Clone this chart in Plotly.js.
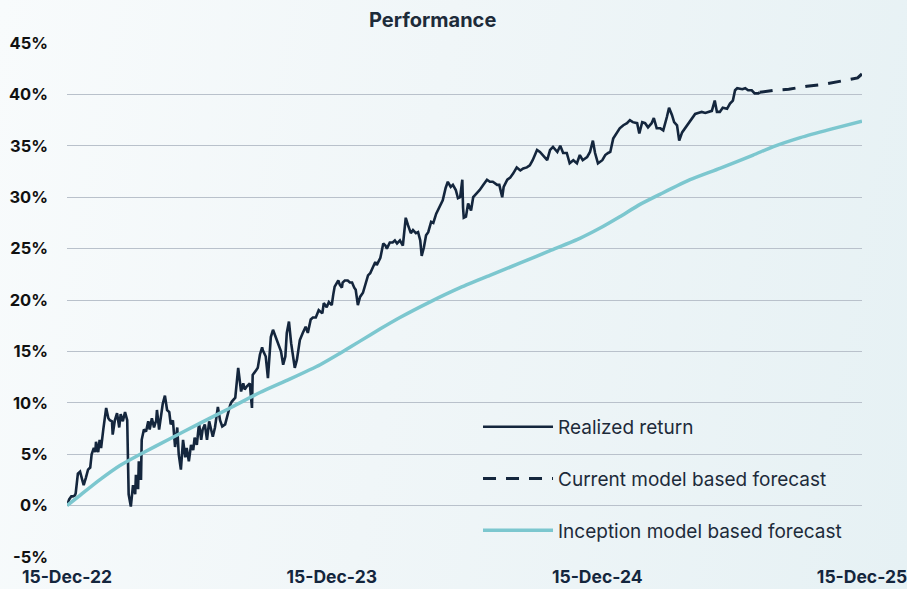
<!DOCTYPE html>
<html>
<head>
<meta charset="utf-8">
<script src="https://cdn.plot.ly/plotly-3.0.1.min.js"></script>
<style>
  html, body { margin: 0; padding: 0; }
  body { width: 907px; height: 589px; overflow: hidden;
         background: linear-gradient(100deg, #f8fbfc 0%, #f0f6f8 45%, #e6f1f4 100%); }
  #chart { width: 907px; height: 589px; }
</style>
</head>
<body>
<div id="chart"></div>
<script>
// Inception date of the strategy; all day offsets count from here
const startDate = "2022-12-15";

// Realized return (day offset from start, cumulative return in %)
const realizedDays = [0,3,6,8,11,12,15,18,21,23,26,29,32,34,37,39,40,43,45,47,50,52,54,57,59,62,63,66,69,72,74,77,80,83,84,85,88,91,94,95,98,99,102,103,106,109,112,114,117,120,123,124,127,130,132,135,138,141,143,146,149,152,154,157,160,163,165,168,171,174,176,179,182,185,187,190,193,196,199,201,204,208,211,214,218,222,225,227,232,236,239,240,243,245,248,252,255,256,261,263,266,269,270,274,277,281,284,288,291,295,298,301,303,306,309,312,314,317,321,325,329,332,336,339,343,347,352,354,358,361,365,367,369,374,376,379,380,383,387,390,393,396,398,401,404,408,412,415,418,420,425,427,432,436,439,441,445,449,452,455,459,463,467,470,474,477,481,484,487,489,492,495,498,502,505,509,511,516,518,522,525,529,532,536,539,542,545,546,547,550,553,557,560,565,569,574,579,583,587,593,596,600,602,607,611,615,620,625,629,634,638,642,648,652,656,662,666,670,676,680,684,689,693,698,703,707,711,717,721,725,728,732,738,742,746,749,753,758,762,767,772,776,780,786,789,793,797,801,806,809,813,818,822,827,830,834,837,841,844,848,852,856,862,866,870,875,880,884,889,893,896,900,904,910,914,918,921,924,931,935,939,944,948,953,955];
const realizedPct = [0.0,0.6,0.9,0.9,1.0,1.2,3.1,3.3,2.5,2.0,2.7,3.5,3.7,5.0,5.6,5.2,6.2,5.2,6.4,5.6,7.4,8.3,9.5,8.5,8.3,8.2,6.9,8.3,9.0,7.6,8.9,8.2,9.1,8.3,3.5,1.1,-0.1,2.0,1.1,3.0,1.6,4.3,2.5,6.4,7.4,7.2,8.2,7.4,8.5,7.6,8.3,9.3,7.4,9.1,9.9,10.7,9.3,9.1,7.9,8.3,5.7,7.6,5.0,3.5,6.4,4.7,5.6,4.3,5.9,5.4,6.6,5.9,8.0,6.4,7.4,7.9,6.4,8.2,7.2,6.7,7.6,9.6,8.3,7.7,7.9,9.1,9.8,10.1,10.5,13.4,11.7,11.1,11.9,11.3,11.6,11.9,9.5,12.7,13.2,13.4,14.7,15.4,15.1,14.5,12.4,16.4,17.1,16.3,15.6,15.0,13.7,14.5,16.8,17.9,15.8,14.2,13.4,14.2,16.1,16.8,17.4,16.8,18.1,18.3,18.3,19.0,18.7,19.7,19.3,19.8,19.5,20.5,21.3,21.9,21.5,21.2,21.7,21.9,21.9,21.7,21.7,21.2,21.0,19.5,20.3,20.7,21.7,22.4,22.6,22.9,23.7,23.4,24.1,25.5,25.3,25.0,25.6,25.6,25.8,25.5,25.8,25.3,28.0,27.3,26.5,26.8,26.5,26.6,25.8,24.3,25.1,26.3,26.6,27.6,27.5,28.4,28.7,29.4,29.7,30.9,31.5,31.0,31.2,30.7,29.9,30.0,31.7,29.0,28.0,28.1,29.4,28.7,30.0,30.4,30.7,31.2,31.7,31.5,31.5,31.2,31.2,30.0,31.0,31.7,31.9,32.3,32.9,32.6,32.8,32.9,33.1,33.6,34.6,34.4,34.1,33.6,34.6,34.9,34.4,35.0,34.3,34.3,33.3,33.6,33.3,34.1,33.6,33.9,34.4,35.5,34.3,33.3,33.6,34.1,34.3,34.4,35.7,36.2,36.7,37.0,37.2,37.5,37.3,37.2,36.2,37.3,37.2,36.8,37.2,37.7,36.7,36.7,36.5,37.8,38.7,38.0,37.3,37.0,35.5,36.3,36.7,37.2,37.8,38.1,38.2,38.3,38.2,38.3,38.4,39.4,38.3,38.3,38.7,38.6,39.1,39.4,40.4,40.6,40.5,40.6,40.4,40.4,40.1,40.1,40.2];

// Current model based forecast (dashed)
const currentDays = [955,975,995,1020,1045,1070,1090,1096];
const currentPct  = [40.2,40.4,40.5,40.8,41.0,41.3,41.6,42.0];

// Inception model based forecast
const inceptionDays = [0,18,45,73,101,142,183,225,266,307,349,376,404,432,459,500,542,583,625,666,707,735,762,790,818,859,900,946,973,1011,1052,1096];
const inceptionPct  = [0,1.0,2.5,3.9,5.0,6.5,8.0,9.5,11.0,12.3,13.7,14.8,16.0,17.2,18.3,19.8,21.2,22.4,23.6,24.8,26.0,27.0,28.1,29.3,30.3,31.7,32.8,34.1,34.9,35.8,36.6,37.4];

// Axis ticks
const xTickDates  = ["2022-12-15","2023-12-15","2024-12-15","2025-12-15"];
const xTickLabels = ["15-Dec-22","15-Dec-23","15-Dec-24","15-Dec-25"];
const yTickVals   = [-5,0,5,10,15,20,25,30,35,40,45];
const yTickLabels = ["-5%","0%","5%","10%","15%","20%","25%","30%","35%","40%","45%"];

const seriesNames = ["Realized return","Current model based forecast","Inception model based forecast"];

function toDates(days) {
  const base = Date.parse(startDate + "T00:00:00Z");
  return days.map(d => new Date(base + d * 86400000).toISOString().slice(0, 10));
}

const navy = "#14263d";
const teal = "#7cc7cf";
const FONT = "Inter, 'Open Sans', sans-serif";

const traces = [
  { x: toDates(realizedDays), y: realizedPct, type: "scatter", mode: "lines",
    name: seriesNames[0], legendgroup: "a", legendrank: 1,
    line: { color: navy, width: 2.6 }, hoverinfo: "skip" },
  { x: toDates(currentDays), y: currentPct, type: "scatter", mode: "lines",
    name: seriesNames[1], legendgroup: "b", legendrank: 2,
    line: { color: navy, width: 3, dash: "13px,10px" }, hoverinfo: "skip" },
  { x: toDates(inceptionDays), y: inceptionPct, type: "scatter", mode: "lines",
    name: seriesNames[2], legendgroup: "c", legendrank: 3, line: { color: teal, width: 3.5, shape: "spline", smoothing: 0.6 },
    hoverinfo: "skip" }
];

const layout = {
  width: 907, height: 589,
  paper_bgcolor: "rgba(0,0,0,0)", plot_bgcolor: "rgba(0,0,0,0)",
  margin: { l: 67, r: 45, t: 43, b: 32 },
  font: { family: FONT, color: navy },
  title: { text: "<b>Performance</b>", x: 0.477, xanchor: "center", y: 0.966, yanchor: "middle",
           font: { family: FONT, size: 20, color: "#1d2b3a" } },
  showlegend: true,
  legend: { x: 0.517, y: 0.29, xanchor: "left", yanchor: "top", bgcolor: "rgba(0,0,0,0)",
            font: { family: FONT, size: 19, color: "#1d2b3a" }, tracegroupgap: 24, itemwidth: 70,
            traceorder: "grouped" },
  xaxis: { type: "date", range: [xTickDates[0], xTickDates[3]], tickmode: "array",
           tickvals: xTickDates, ticktext: xTickLabels, showgrid: false, zeroline: false,
           showline: false, ticks: "", ticklabelstandoff: 7, ticklabeloverflow: "allow",
           tickfont: { family: FONT, size: 17.5, color: navy, weight: "bold" } },
  yaxis: { range: [-5, 45], tickmode: "array", tickvals: yTickVals, ticktext: yTickLabels,
           showgrid: true, gridcolor: "#b9c1cb", gridwidth: 1, zeroline: false, showline: false,
           ticks: "", ticklabelstandoff: 18,
           tickfont: { family: FONT, size: 16.5, color: "#111111", weight: "bold" } }
};

Plotly.newPlot("chart", traces, layout, { staticPlot: true, displayModeBar: false });
</script>
</body>
</html>
